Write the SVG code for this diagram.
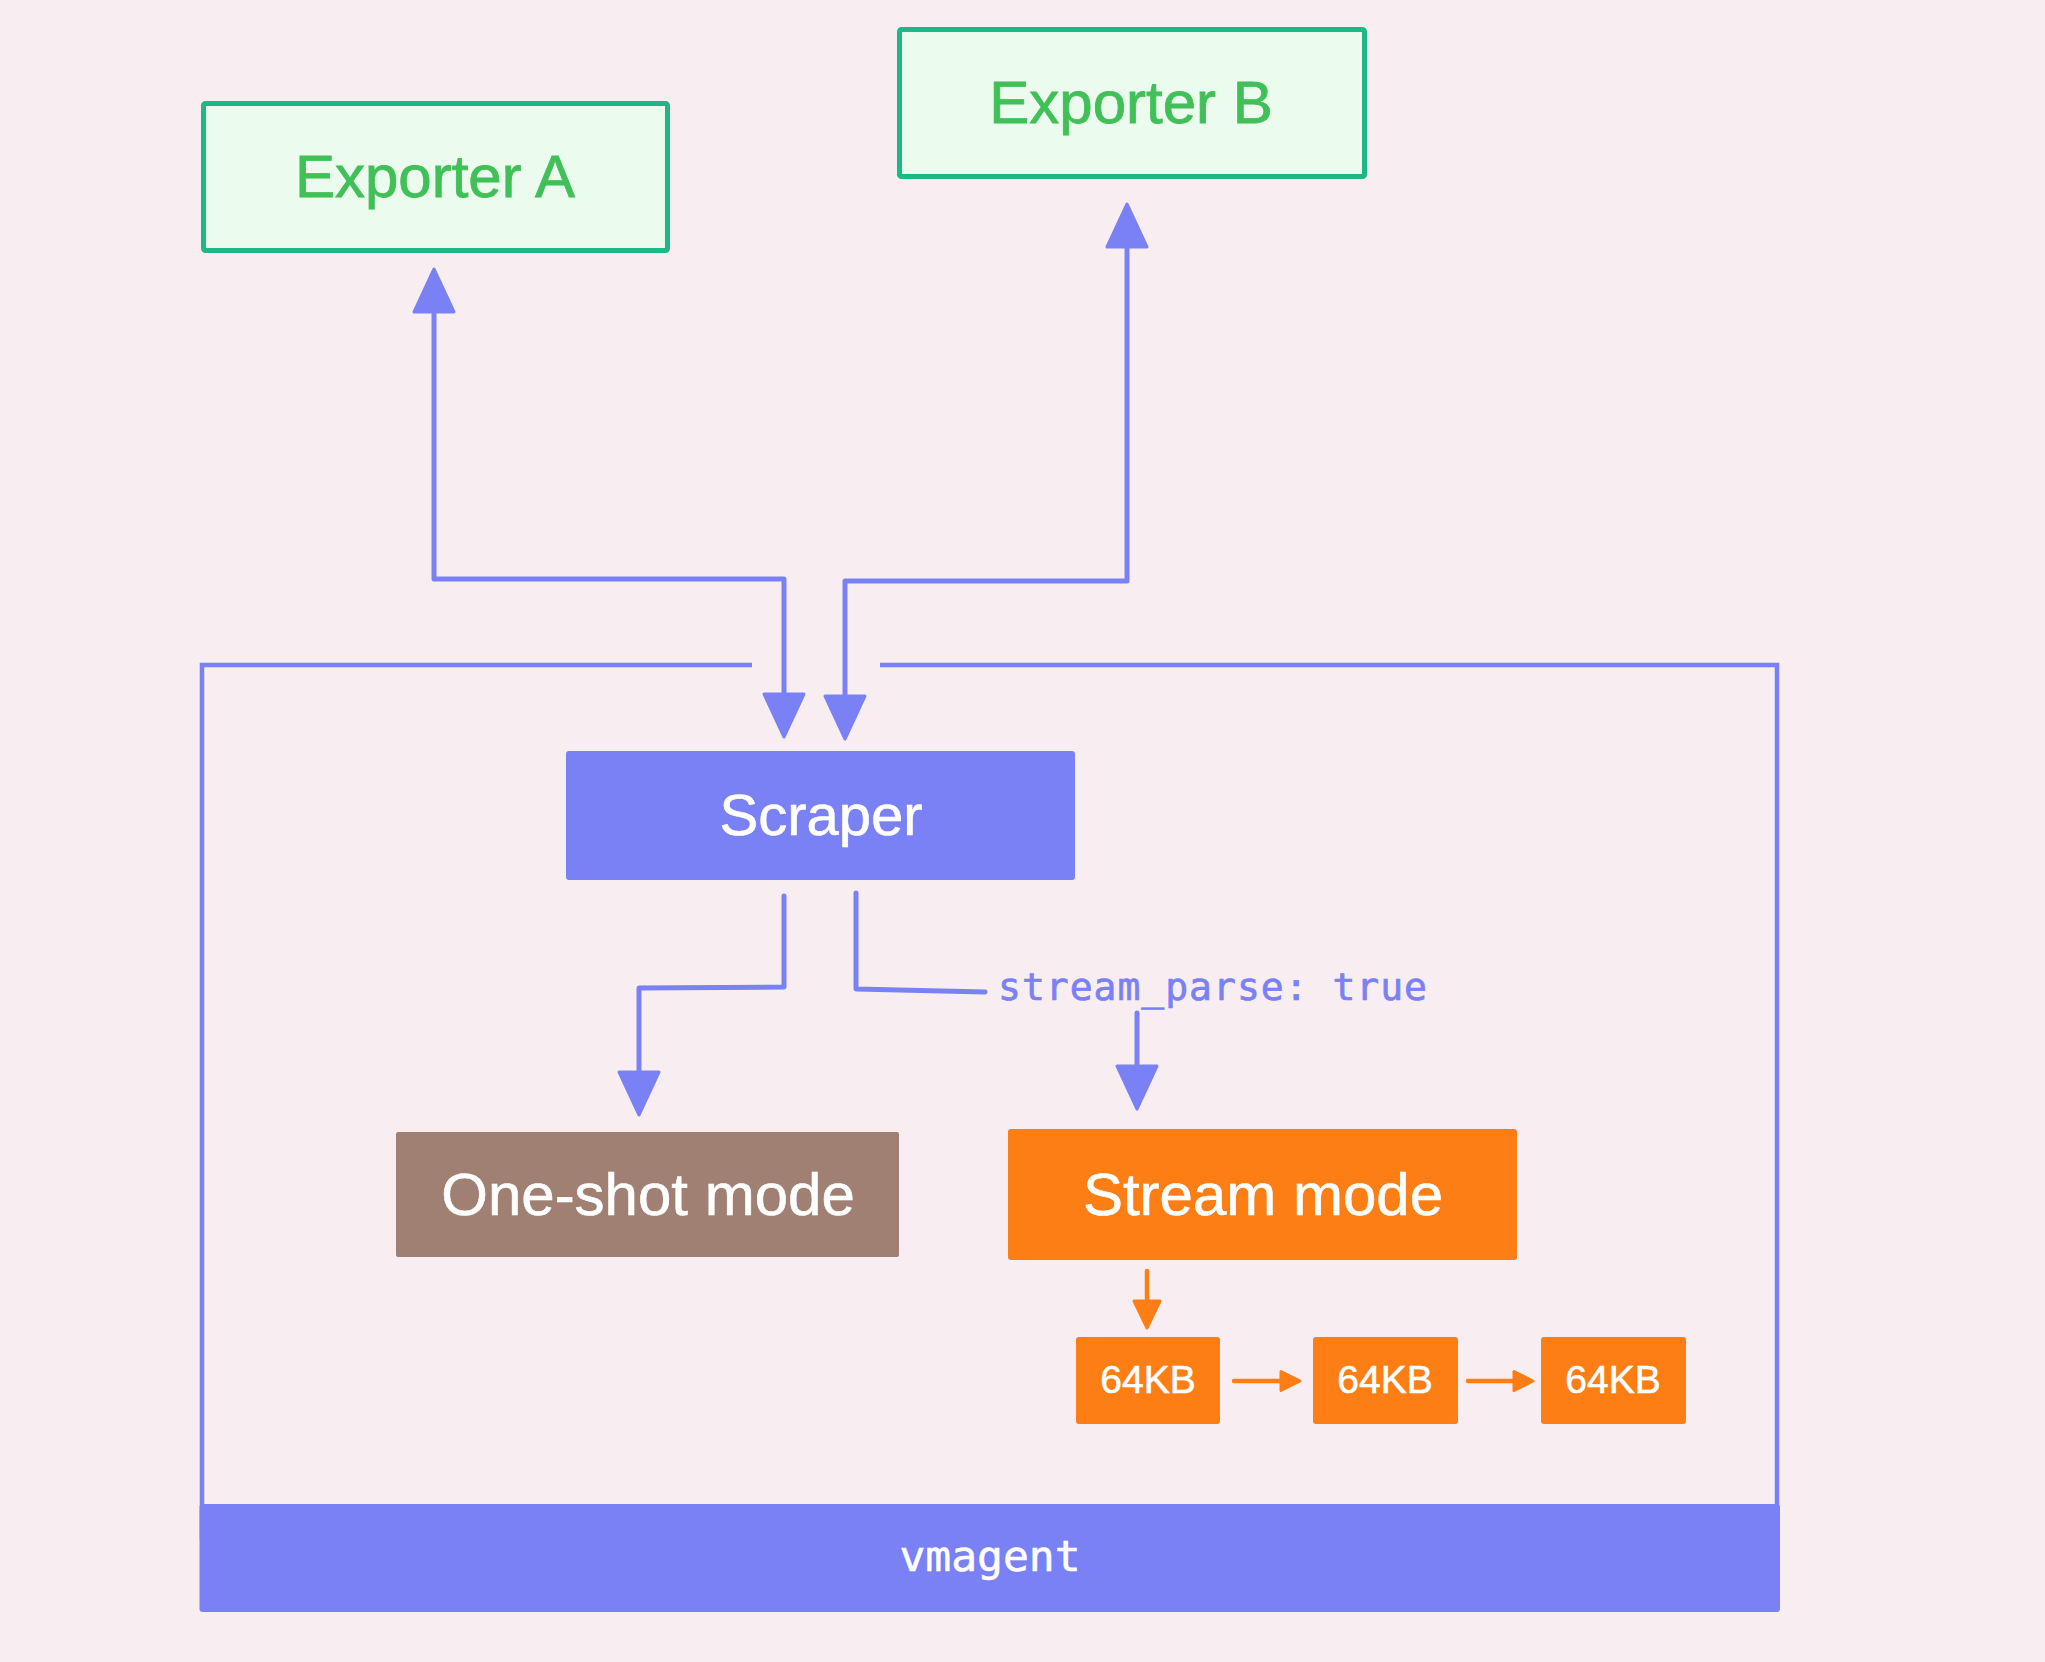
<svg xmlns="http://www.w3.org/2000/svg" width="2045" height="1662" viewBox="0 0 2045 1662">
<style>
.exp{fill:#ebfbee;stroke:#1db886;stroke-width:5}
.expt{font-family:"Liberation Sans",Arial,sans-serif;font-size:60px;fill:#40c057;stroke:#40c057;stroke-width:0.8;text-anchor:middle}
.wt{font-family:"Liberation Sans",Arial,sans-serif;fill:#ffffff;stroke:#ffffff;stroke-width:0.6;text-anchor:middle}
.mono{font-family:"DejaVu Sans Mono","Liberation Mono",monospace}
.bl{fill:none;stroke:#7a81f4;stroke-width:5;stroke-linejoin:round;stroke-linecap:round}
.or{fill:none;stroke:#fd7e14;stroke-width:4.5;stroke-linecap:round}
</style>
<defs>
<marker id="ab" viewBox="-3 -25 52 50" refX="0" refY="0" markerWidth="52" markerHeight="50" markerUnits="userSpaceOnUse" orient="auto-start-reverse">
<path d="M0,-20 L43,0 L0,20 Z" fill="#7a81f4" stroke="#7a81f4" stroke-width="3" stroke-linejoin="round"/>
</marker>
<marker id="ao1" viewBox="-3 -17 34 34" refX="0" refY="0" markerWidth="34" markerHeight="34" markerUnits="userSpaceOnUse" orient="auto">
<path d="M0,-13 L27,0 L0,13 Z" fill="#fd7e14" stroke="#fd7e14" stroke-width="3" stroke-linejoin="round"/>
</marker>
<marker id="ao2" viewBox="-3 -13 26 26" refX="0" refY="0" markerWidth="26" markerHeight="26" markerUnits="userSpaceOnUse" orient="auto">
<path d="M0,-9.5 L19,0 L0,9.5 Z" fill="#fd7e14" stroke="#fd7e14" stroke-width="3" stroke-linejoin="round"/>
</marker>
</defs>
<rect width="2045" height="1662" fill="#f8eef1"/>

<g id="vmagent">
<path d="M752,665 H202 V1540 M880,665 H1777 V1540" fill="none" stroke="#7a81f4" stroke-width="4.5"/>
<rect x="199.5" y="1504" width="1580.5" height="108" rx="3" fill="#7a81f4"/>
<text x="990" y="1571" class="wt mono" font-size="43">vmagent</text>
</g>

<g id="exporter-a">
<rect class="exp" x="203.5" y="103.5" width="464" height="147" rx="2"/>
<text class="expt" x="435" y="197">Exporter A</text>
</g>

<g id="exporter-b">
<rect class="exp" x="899.5" y="29.5" width="465" height="147" rx="2"/>
<text class="expt" x="1131" y="123">Exporter B</text>
</g>

<g id="scraper">
<rect x="566" y="751" width="509" height="129" rx="3" fill="#7a81f4"/>
<text class="wt" x="821" y="835" font-size="58">Scraper</text>
</g>

<g id="one-shot">
<rect x="396" y="1132" width="503" height="125" rx="2" fill="#a08072"/>
<text class="wt" x="648" y="1215" font-size="60">One-shot mode</text>
</g>

<g id="stream-mode">
<rect x="1008" y="1129" width="509" height="131" rx="3" fill="#fd7e14"/>
<text class="wt" x="1263" y="1215" font-size="60">Stream mode</text>
</g>

<g id="chunk1">
<rect x="1076" y="1337" width="144" height="87" rx="3" fill="#fd7e14"/>
<text class="wt" x="1148" y="1393" font-size="39">64KB</text>
</g>
<g id="chunk2">
<rect x="1313" y="1337" width="145" height="87" rx="3" fill="#fd7e14"/>
<text class="wt" x="1385" y="1393" font-size="39">64KB</text>
</g>
<g id="chunk3">
<rect x="1541" y="1337" width="145" height="87" rx="3" fill="#fd7e14"/>
<text class="wt" x="1613" y="1393" font-size="39">64KB</text>
</g>

<g id="connectors">
<path class="bl" d="M784,694 L784,579 L434,579 L434,312" marker-start="url(#ab)" marker-end="url(#ab)"/>
<path class="bl" d="M845,696 L845,581 L1127,581 L1127,247" marker-start="url(#ab)" marker-end="url(#ab)"/>
<path class="bl" d="M784,896 L784,987 L639,988 L639,1072" marker-end="url(#ab)"/>
<path class="bl" d="M856,893 L856,989 L985,992"/>
<text class="mono" x="998" y="1000" font-size="38" fill="#7a81f4" stroke="#7a81f4" stroke-width="0.7" textLength="429" lengthAdjust="spacing">stream_parse: true</text>
<path class="bl" d="M1137,1013 L1137,1066" marker-end="url(#ab)"/>
<path class="or" d="M1147,1271 L1147,1301" marker-end="url(#ao1)"/>
<path class="or" d="M1234,1381 L1281,1381" marker-end="url(#ao2)"/>
<path class="or" d="M1468,1381 L1514,1381" marker-end="url(#ao2)"/>
</g>
</svg>
